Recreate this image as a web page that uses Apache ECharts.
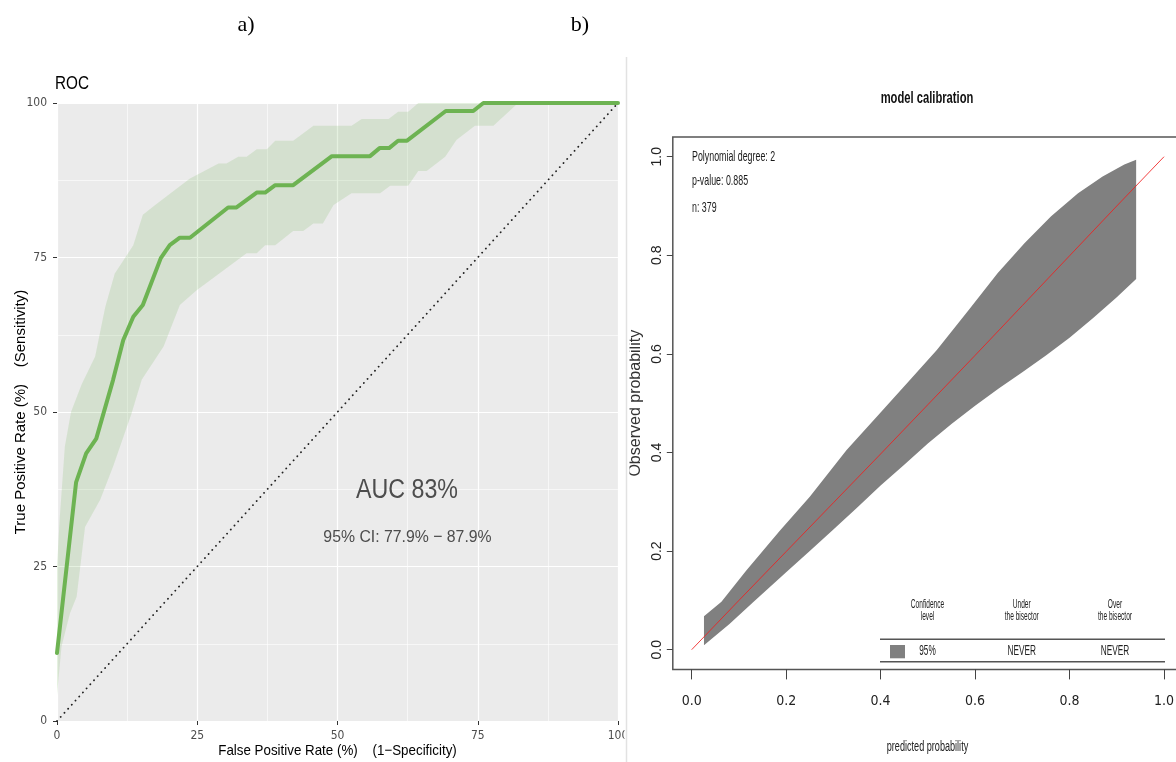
<!DOCTYPE html>
<html><head><meta charset="utf-8">
<script src="https://cdn.jsdelivr.net/npm/echarts@6/dist/echarts.min.js"></script>
<style>html,body{margin:0;padding:0;background:#fff}#c{width:1176px;height:762px}</style>
</head><body><div id="c"></div>
<script>
// ---------- Panel a) ROC ----------
const rocFpr = [0, 3.4, 5.2, 7.0, 10, 11.8, 13.6, 15.3, 18.5, 20.1, 21.9, 23.7, 30.5, 32.0, 35.6, 37.1, 38.9, 42.1, 49.0, 55.8, 57.5, 59.2, 60.8, 62.4, 69.3, 74.2, 76.0, 100];
const rocTpr = [11, 38.6, 43.3, 45.7, 55.2, 61.6, 65.4, 67.3, 74.9, 77.0, 78.2, 78.2, 83.1, 83.1, 85.5, 85.5, 86.7, 86.7, 91.4, 91.4, 92.7, 92.7, 93.9, 93.9, 98.7, 98.7, 100, 100];
const ciUpperFpr = [0, 0.5, 1.4, 2.5, 4.4, 6.8, 8.6, 10.3, 13.6, 15.3, 17.5, 23.7, 28.8, 30.2, 32.3, 33.8, 35.6, 37.4, 38.9, 42.1, 45.7, 52.5, 54.3, 59.1, 60.8, 62.6, 64.4, 100];
const ciUpperTpr = [25, 33, 44.4, 50, 54.5, 59, 67, 72.4, 77, 81.9, 83.5, 87.8, 90.2, 90.2, 91.3, 91.3, 92.5, 92.5, 93.9, 93.9, 96.3, 96.3, 97.4, 97.4, 98.6, 98.6, 100, 100];
const ciLowerFpr = [0, 0.8, 2.3, 3.5, 5.0, 7.7, 10, 13.3, 15.1, 19.0, 21.9, 24.9, 33.8, 35.6, 37.1, 38.9, 42.1, 43.9, 45.7, 47.4, 49.3, 52.5, 57.6, 59.4, 62.6, 64.4, 65.9, 69.2, 71.2, 74.5, 77.8, 82.2, 100];
const ciLowerTpr = [4.2, 12, 17.4, 20.1, 31.4, 35.8, 41.2, 49.8, 55.2, 60.6, 67.3, 69.7, 75.7, 75.7, 77.0, 77.0, 79.3, 79.3, 80.5, 80.5, 83.5, 85.4, 85.4, 86.6, 86.6, 89.0, 89.0, 91.3, 94.0, 96.3, 96.3, 100, 100];
const chanceX = [0, 100];
const chanceY = [0, 100];
const aucText = 'AUC 83%';
const ciText = '95% CI: 77.9% \u2212 87.9%';

// ---------- Panel b) calibration ----------
const calTicks = [0, 0.2, 0.4, 0.6, 0.8, 1.0];
const calUpperX = [0.026, 0.063, 0.116, 0.187, 0.25, 0.328, 0.398, 0.462, 0.519, 0.589, 0.648, 0.705, 0.761, 0.818, 0.87, 0.916, 0.941];
const calUpperY = [0.068, 0.097, 0.161, 0.242, 0.31, 0.405, 0.479, 0.547, 0.608, 0.692, 0.764, 0.825, 0.879, 0.926, 0.96, 0.984, 0.994];
const calLowerX = [0.026, 0.08, 0.13, 0.2, 0.25, 0.3, 0.35, 0.4, 0.45, 0.5, 0.55, 0.6, 0.65, 0.7, 0.75, 0.8, 0.85, 0.9, 0.941];
const calLowerY = [0.009, 0.052, 0.096, 0.157, 0.2, 0.244, 0.288, 0.333, 0.375, 0.418, 0.458, 0.495, 0.53, 0.563, 0.597, 0.633, 0.673, 0.715, 0.752];
const calCurveX = [0, 0.1, 0.2, 0.3, 0.4, 0.5, 0.6, 0.7, 0.8, 0.9, 1.0];
const calCurveY = [0, 0.1, 0.199, 0.298, 0.397, 0.497, 0.597, 0.698, 0.799, 0.9, 1.0];
const calInfo = ['Polynomial degree: 2', 'p-value: 0.885', 'n: 379'];
const legendHeaders = [['Confidence', 'level'], ['Under', 'the bisector'], ['Over', 'the bisector']];
const legendRow = ['95%', 'NEVER', 'NEVER'];

const NARROW = "'Liberation Sans Narrow', 'DejaVu Sans Condensed', 'Liberation Sans', sans-serif";
const SANS = "'Liberation Sans', Arial, sans-serif";

function bandItem(ux, uy, lx, ly, fill) {
  return function (params, api) {
    const pts = [];
    for (let i = 0; i < ux.length; i++) pts.push(api.coord([ux[i], uy[i]]));
    for (let i = lx.length - 1; i >= 0; i--) pts.push(api.coord([lx[i], ly[i]]));
    return { type: 'polygon', shape: { points: pts }, style: { fill: fill } };
  };
}
function zip(a, b) { return a.map((v, i) => [v, b[i]]); }

function txt(x, y, text, size, opts) {
  opts = opts || {};
  return {
    type: 'text', x: x, y: y, scaleX: opts.sx || 1, z: 100,
    style: {
      text: text,
      font: (opts.bold ? 'bold ' : '') + size + 'px ' + (opts.family || SANS),
      fill: opts.color || '#000',
      align: opts.align || 'center', verticalAlign: 'middle',
      textAlign: opts.align || 'center', textVerticalAlign: 'middle'
    }
  };
}

const graphics = [
  txt(246, 25, 'a)', 22, { family: "'Liberation Serif', 'DejaVu Serif', serif" }),
  txt(580, 25, 'b)', 22, { family: "'Liberation Serif', 'DejaVu Serif', serif" }),
  txt(55, 84, 'ROC', 18, { align: 'left', sx: 0.85 }),
  txt(407, 491, aucText, 27, { sx: 0.86, color: '#4D4D4D' }),
  txt(407.5, 537, ciText, 17, { sx: 0.93, color: '#4D4D4D' }),
  txt(337.5, 751, 'False Positive Rate (%)    (1\u2212Specificity)', 15, { sx: 0.89 }),
  // separator between the two panels
  { type: 'rect', z: 99, shape: { x: 624.5, y: 0, width: 5, height: 762 }, style: { fill: '#fff' } },
  { type: 'line', z: 100, shape: { x1: 626.5, y1: 57, x2: 626.5, y2: 762 }, style: { stroke: '#E2E2E2', lineWidth: 1.5 } },
  // right panel texts
  txt(927, 98.5, 'model calibration', 16, { bold: true, sx: 0.7, color: '#111' }),
  txt(927.5, 747, 'predicted probability', 14, { sx: 0.65, color: '#222' }),
  txt(692, 157, calInfo[0], 15, { align: 'left', sx: 0.59, color: '#1a1a1a' }),
  txt(692, 181, calInfo[1], 15, { align: 'left', sx: 0.59, color: '#1a1a1a' }),
  txt(692, 207.5, calInfo[2], 15, { align: 'left', sx: 0.59, color: '#1a1a1a' }),
  // legend table
  { type: 'line', z: 100, shape: { x1: 880, y1: 639.3, x2: 1165, y2: 639.3 }, style: { stroke: '#555', lineWidth: 1.5 } },
  { type: 'line', z: 100, shape: { x1: 880, y1: 661.7, x2: 1165, y2: 661.7 }, style: { stroke: '#555', lineWidth: 1.5 } },
  { type: 'rect', z: 100, shape: { x: 890, y: 645, width: 15, height: 13.3 }, style: { fill: '#808080' } }
];
const colX = [927.5, 1021.7, 1115];
legendHeaders.forEach((h, i) => {
  graphics.push(txt(colX[i], 605, h[0], 12, { sx: 0.55, color: '#222' }));
  graphics.push(txt(colX[i], 616.5, h[1], 12, { sx: 0.55, color: '#222' }));
  graphics.push(txt(colX[i], 651.5, legendRow[i], 14, { sx: 0.59, color: '#222' }));
});

const option = {
  animation: false,
  backgroundColor: '#fff',
  grid: [
    { left: 57, top: 103, width: 561, height: 618, show: true, backgroundColor: '#EBEBEB', borderWidth: 0, outerBoundsMode: 'none', containLabel: false },
    { left: 672.8, top: 137, width: 510.1, height: 532.4, show: true, backgroundColor: 'transparent', borderColor: '#555', borderWidth: 1.5, outerBoundsMode: 'none', containLabel: false }
  ],
  xAxis: [
    {
      type: 'value', gridIndex: 0, min: 0, max: 100, interval: 25,
      axisLine: { show: false, onZero: false },
      axisTick: { show: true, length: 4, lineStyle: { color: '#333', width: 1 } },
      axisLabel: { color: '#4D4D4D', fontSize: 12, fontFamily: NARROW, margin: 9, showMaxLabel: true, showMinLabel: true },
      splitLine: { show: true, lineStyle: { color: '#fff', width: 1.2 } },
      minorTick: { show: false, splitNumber: 2 },
      minorSplitLine: { show: true, lineStyle: { color: '#fff', width: 0.6 } }
    },
    {
      type: 'value', gridIndex: 1, min: -0.04, max: 1.04,
      axisLine: { show: false, onZero: false },
      axisTick: { show: true, length: 10, customValues: calTicks, lineStyle: { color: '#444', width: 1 } },
      axisLabel: { customValues: calTicks, formatter: v => v.toFixed(1), color: '#222', fontSize: 14, fontFamily: NARROW, margin: 25 },
      splitLine: { show: false }
    }
  ],
  yAxis: [
    {
      type: 'value', gridIndex: 0, min: 0, max: 100, interval: 25,
      axisLine: { show: false, onZero: false },
      axisTick: { show: true, length: 4, lineStyle: { color: '#333', width: 1 } },
      axisLabel: { color: '#4D4D4D', fontSize: 12, fontFamily: NARROW, margin: 10 },
      splitLine: { show: true, lineStyle: { color: '#fff', width: 1.2 } },
      minorTick: { show: false, splitNumber: 2 },
      minorSplitLine: { show: true, lineStyle: { color: '#fff', width: 0.6 } },
      name: 'True Positive Rate (%)    (Sensitivity)', nameLocation: 'middle', nameGap: 29, nameMoveOverlap: false,
      nameTextStyle: { color: '#000', fontSize: 15, fontFamily: SANS }
    },
    {
      type: 'value', gridIndex: 1, min: -0.04, max: 1.04,
      axisLine: { show: false, onZero: false },
      axisTick: { show: true, length: 6, customValues: calTicks, lineStyle: { color: '#444', width: 1 } },
      axisLabel: { customValues: calTicks, formatter: v => v.toFixed(1), rotate: 90, color: '#222', fontSize: 14, fontFamily: SANS, margin: 9 },
      splitLine: { show: false },
      name: 'Observed probability', nameLocation: 'middle', nameGap: 29, nameMoveOverlap: false,
      nameTextStyle: { color: '#333', fontSize: 16, fontFamily: SANS }
    }
  ],
  series: [
    {
      type: 'custom', xAxisIndex: 0, yAxisIndex: 0, silent: true, z: 2, data: [[50, 50]],
      renderItem: bandItem(ciUpperFpr, ciUpperTpr, ciLowerFpr, ciLowerTpr, 'rgba(110,178,82,0.18)')
    },
    {
      type: 'line', xAxisIndex: 0, yAxisIndex: 0, z: 3, showSymbol: false, symbol: 'none',
      data: zip(rocFpr, rocTpr),
      lineStyle: { color: '#6DB352', width: 4, join: 'round', cap: 'round' }
    },
    {
      type: 'line', xAxisIndex: 0, yAxisIndex: 0, z: 4, showSymbol: false, symbol: 'none',
      data: zip(chanceX, chanceY),
      lineStyle: { color: '#222', width: 1.8, type: [0.1, 5.4], cap: 'round' }
    },
    {
      type: 'custom', xAxisIndex: 1, yAxisIndex: 1, silent: true, z: 2, data: [[0.5, 0.5]],
      renderItem: bandItem(calUpperX, calUpperY, calLowerX, calLowerY, '#808080')
    },
    {
      type: 'line', xAxisIndex: 1, yAxisIndex: 1, z: 3, showSymbol: false, symbol: 'none',
      data: zip(calCurveX, calCurveY),
      lineStyle: { color: 'rgba(240,30,30,0.85)', width: 1 }
    }
  ],
  graphic: graphics
};

const chart = echarts.init(document.getElementById('c'), null, { renderer: 'canvas' });
chart.setOption(option);
</script></body></html>
